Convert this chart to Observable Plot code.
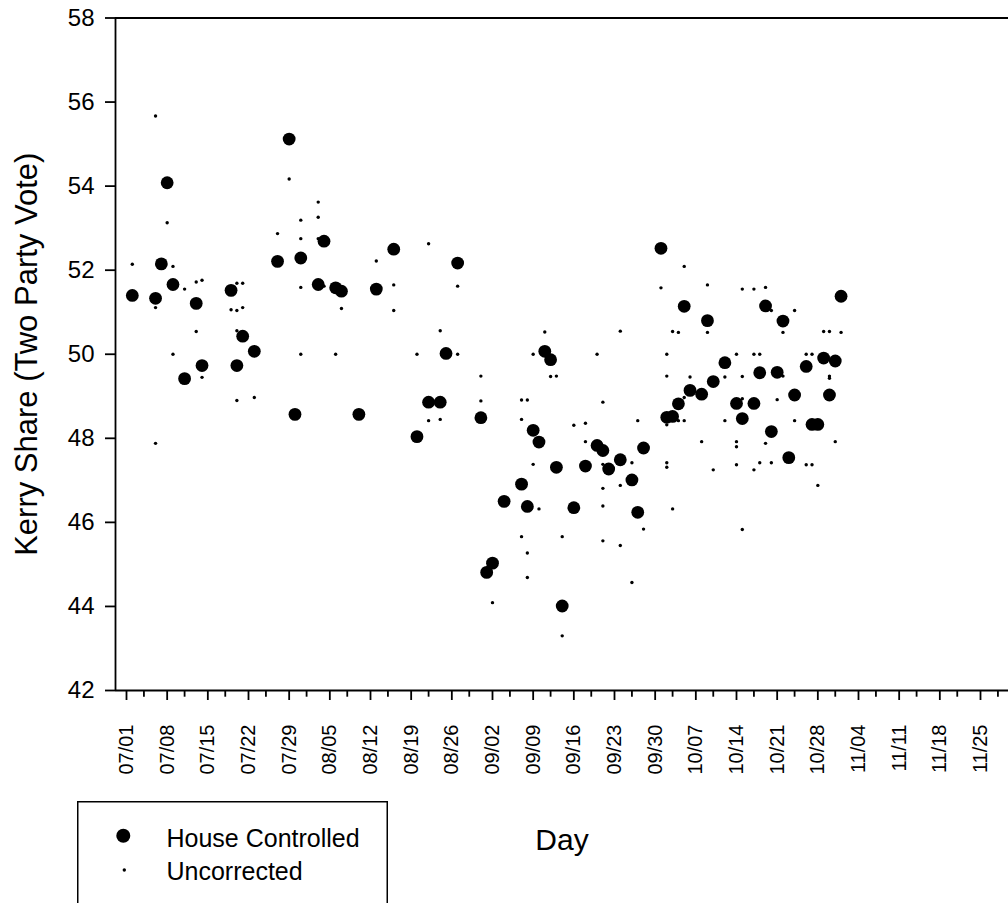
<!DOCTYPE html>
<html>
<head>
<meta charset="utf-8">
<script src="https://cdn.jsdelivr.net/npm/d3@7"></script>
<script src="https://cdn.jsdelivr.net/npm/@observablehq/plot@0.6"></script>
<style>
  body { margin: 0; background: #fff; }
  #wrap { position: relative; width: 1008px; height: 903px; overflow: hidden;
          font-family: "Liberation Sans", Arial, sans-serif; }
  #legend { position: absolute; left: 77px; top: 801px; }
</style>
</head>
<body>
<div id="wrap"></div>
<script>
// ---- Data (days counted from 2004-07-01) ----
const houseDays = [1,5,6,7,8,10,12,13,18,19,20,22,26,28,29,30,33,34,36,37,40,43,46,50,52,54,55,57,
  61,62,63,65,68,69,70,71,72,73,74,75,77,79,81,82,83,85,87,88,89,92,93,94,95,96,97,99,100,101,103,
  105,106,108,109,110,111,112,113,114,115,117,118,119,120,121,122,123];
const houseShare = [51.40,51.33,52.15,54.08,51.66,49.42,51.21,49.73,51.52,49.73,50.43,50.07,52.21,55.12,
  48.57,52.29,51.66,52.69,51.58,51.50,48.57,51.55,52.50,48.04,48.86,48.86,50.02,52.17,
  48.49,44.81,45.03,46.50,46.91,46.38,48.19,47.91,50.07,49.87,47.31,44.01,46.35,47.34,47.83,47.71,
  47.27,47.49,47.01,46.24,47.77,52.52,48.50,48.52,48.82,51.14,49.14,49.05,50.80,49.35,49.80,
  48.83,48.47,48.83,49.56,51.15,48.16,49.57,50.79,47.54,49.03,49.71,48.33,48.33,49.91,49.03,49.84,51.38];

const uncDays = [1,5,5,5,7,8,8,10,12,12,13,13,18,19,19,19,19,20,20,22,26,28,30,30,30,30,33,33,33,34,36,37,
  43,46,46,50,52,52,54,54,57,57,61,61,63,68,68,68,69,69,69,70,70,71,72,73,74,75,75,77,79,79,81,
  82,82,82,82,82,85,85,85,87,87,88,89,92,93,93,93,93,93,94,94,95,95,96,96,96,97,99,100,100,101,
  103,103,105,105,105,105,106,106,106,106,108,108,108,109,109,110,110,111,111,112,113,113,115,115,
  117,117,118,118,119,120,121,121,121,122,123];
const uncShare = [52.14,55.67,51.11,47.88,53.13,52.09,50.00,51.55,51.72,50.54,51.76,49.45,51.06,
  51.69,51.04,50.56,48.90,51.69,51.11,48.97,52.87,54.17,53.19,52.75,51.59,50.00,53.62,53.26,52.75,
  51.62,50.00,51.09,52.22,51.65,51.04,50.00,52.63,48.42,50.56,48.45,51.62,50.00,49.48,48.89,44.09,
  48.91,48.45,45.66,48.91,45.27,44.69,50.00,47.38,46.32,50.53,49.47,49.48,45.66,43.30,48.31,48.36,
  47.92,50.00,48.86,47.38,46.81,46.39,45.56,50.55,46.88,45.45,47.42,44.57,48.42,45.84,51.58,
  50.00,49.48,48.32,47.42,47.31,50.54,46.32,50.52,48.42,52.09,48.97,48.42,49.46,47.92,51.65,50.52,
  47.25,49.46,48.42,50.00,47.92,47.80,47.37,51.55,49.47,48.94,45.83,51.55,50.00,47.25,50.00,47.42,
  51.59,47.88,51.04,47.42,48.92,50.52,49.48,51.04,48.42,50.00,47.37,50.00,47.37,46.88,50.54,50.54,
  49.48,49.43,47.92,50.52];

const xTickLabels = ["07/01","07/08","07/15","07/22","07/29","08/05","08/12","08/19","08/26",
  "09/02","09/09","09/16","09/23","09/30","10/07","10/14","10/21","10/28","11/04","11/11","11/18","11/25"];
const yTicks = [42,44,46,48,50,52,54,56,58];
const seriesNames = ["House Controlled", "Uncorrected"];

// ---- Build tables ----
const base = Date.UTC(2004, 6, 1);
const dayMs = 864e5;
const toDate = d => new Date(base + d * dayMs);
const house = houseDays.map((d, i) => ({date: toDate(d), share: houseShare[i]}));
const unc = uncDays.map((d, i) => ({date: toDate(d), share: uncShare[i]}));
const majorTicks = xTickLabels.map(s => { const [m, dd] = s.split("/").map(Number); return new Date(Date.UTC(2004, m - 1, dd)); });
const minorTicks = majorTicks.map(t => d3.utcDay.offset(t, 3));

const font = "'Liberation Sans', Arial, sans-serif";

const chart = Plot.plot({
  width: 1008,
  height: 903,
  marginLeft: 115,
  marginRight: 0,
  marginTop: 17.5,
  marginBottom: 213,
  style: {fontFamily: font, color: "#000", background: "#fff", overflow: "visible"},
  x: {type: "utc", domain: [toDate(-1.893), toDate(151.82)]},
  y: {domain: [42, 58]},
  marks: [
    Plot.axisY({ticks: yTicks, tickSize: 10, tickPadding: 11, fontSize: 24, label: null, strokeWidth: 1.8}),
    Plot.axisX({ticks: majorTicks, tickFormat: d3.utcFormat("%m/%d"), tickRotate: -90, tickSize: 10,
      tickPadding: 24, fontSize: 20, label: null, strokeWidth: 1.8}),
    Plot.axisX({ticks: minorTicks, tickFormat: () => "", tickSize: 6.7, label: null, strokeWidth: 1.8}),
    Plot.ruleY([42, 58], {strokeWidth: 1.8}),
    Plot.ruleX([toDate(-1.893)], {y1: 42, y2: 58, strokeWidth: 1.8}),
    Plot.dot(house, {x: "date", y: "share", r: 6.4, fill: "#000", stroke: null}),
    Plot.dot(unc, {x: "date", y: "share", r: 1.7, fill: "#000", stroke: null}),
    Plot.text(["Kerry Share (Two Party Vote)"], {text: d => d, frameAnchor: "left", textAnchor: "middle",
      dx: -88, rotate: -90, fontSize: 31, fill: "#000"}),
    Plot.text(["Day"], {text: d => d, frameAnchor: "bottom", dy: 138, lineAnchor: "top", fontSize: 30, fill: "#000"})
  ]
});

const wrap = document.getElementById("wrap");
wrap.appendChild(chart);

// ---- Legend ----
const ns = "http://www.w3.org/2000/svg";
const leg = document.createElementNS(ns, "svg");
leg.setAttribute("id", "legend");
leg.setAttribute("width", "312");
leg.setAttribute("height", "102");
const rect = document.createElementNS(ns, "rect");
rect.setAttribute("x", "0.75"); rect.setAttribute("y", "0.75");
rect.setAttribute("width", "309.5"); rect.setAttribute("height", "160");
rect.setAttribute("fill", "#fff"); rect.setAttribute("stroke", "#000"); rect.setAttribute("stroke-width", "1.5");
leg.appendChild(rect);
const rows = [{name: seriesNames[0], r: 7, cy: 34.7, cx: 46.3, base: 45.5},
              {name: seriesNames[1], r: 1.7, cy: 69, cx: 47.3, base: 78.5}];
rows.forEach(row => {
  const c = document.createElementNS(ns, "circle");
  c.setAttribute("cx", row.cx); c.setAttribute("cy", row.cy); c.setAttribute("r", row.r);
  c.setAttribute("fill", "#000");
  leg.appendChild(c);
  const t = document.createElementNS(ns, "text");
  t.setAttribute("x", "89.5"); t.setAttribute("y", row.base);
  t.setAttribute("font-size", "25"); t.setAttribute("font-family", font); t.setAttribute("fill", "#000");
  t.textContent = row.name;
  leg.appendChild(t);
});
wrap.appendChild(leg);
</script>
</body>
</html>
